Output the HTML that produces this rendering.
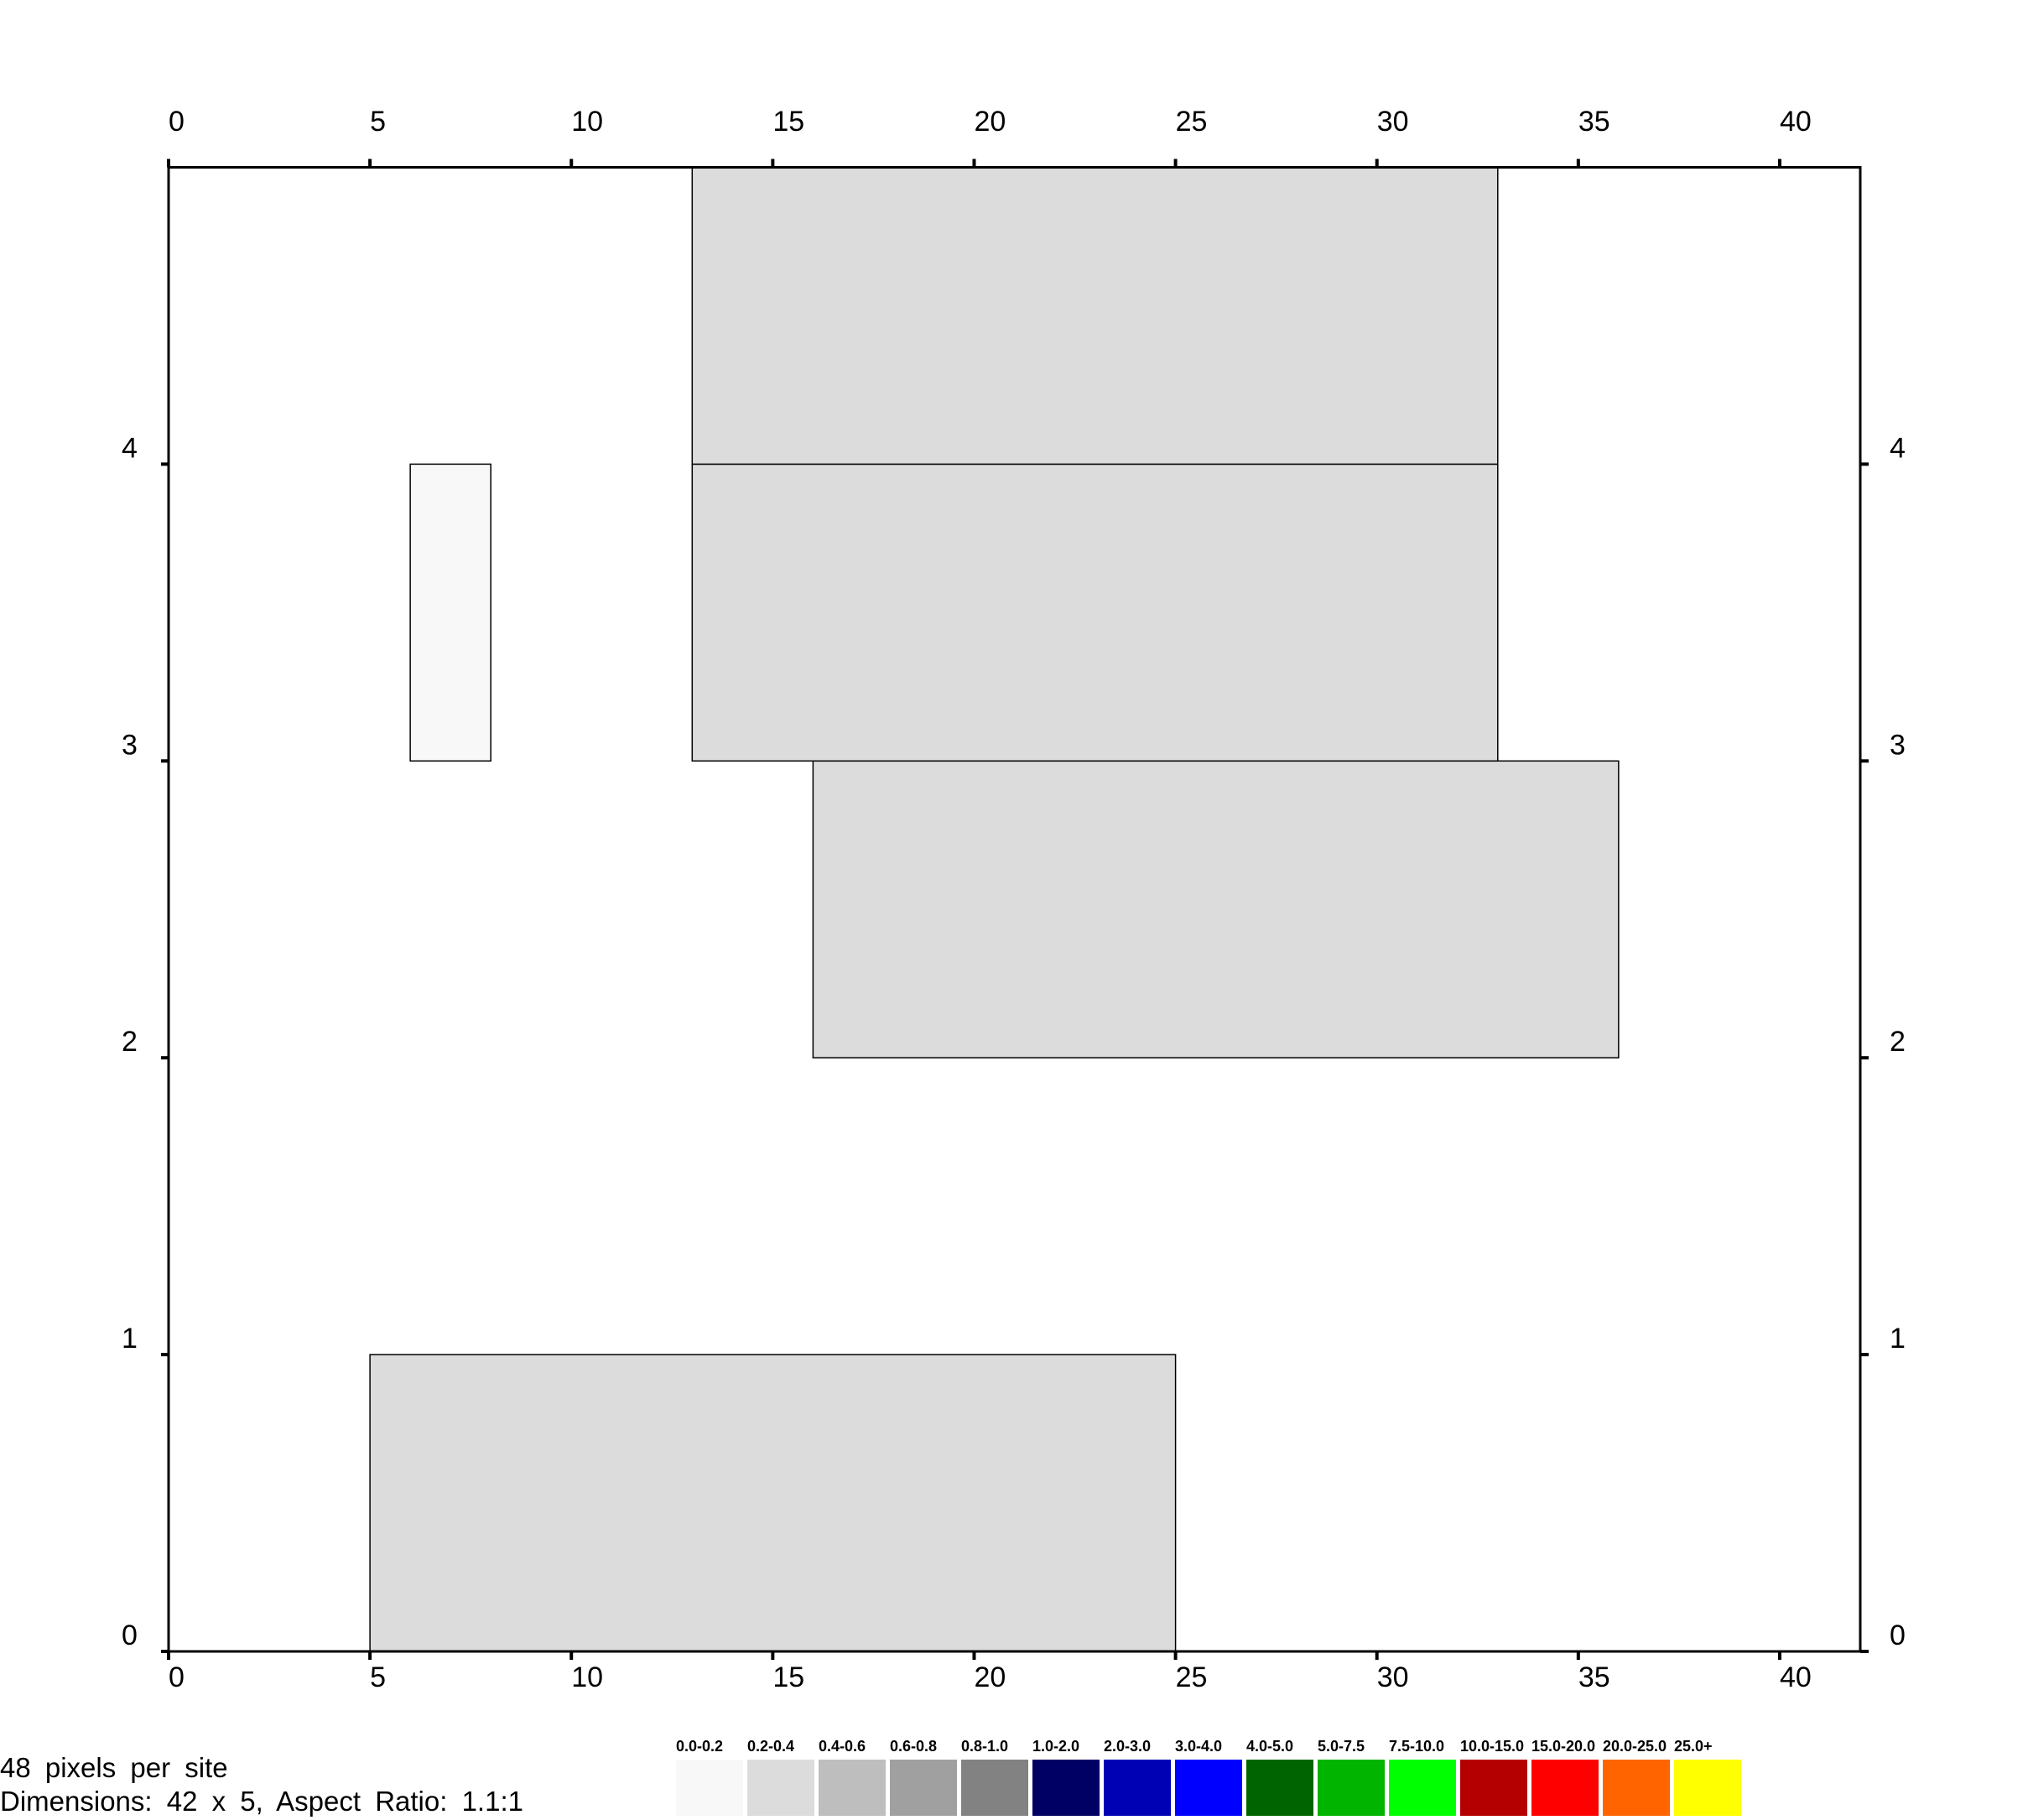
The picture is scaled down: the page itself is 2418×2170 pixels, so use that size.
<!DOCTYPE html>
<html><head><meta charset="utf-8"><style>
html,body{margin:0;padding:0;background:#fff;}
svg{display:block;font-family:"Liberation Sans",Arial,sans-serif;}
</style></head><body>
<svg id="chart" width="2418" height="2170" viewBox="0 0 2418 2170" xmlns="http://www.w3.org/2000/svg"></svg>
<script>
const xTicks = [0,5,10,15,20,25,30,35,40];
const yTicks = [0,1,2,3,4];
const cellX0 = [5,16,13,13,6];
const cellX1 = [25,36,33,33,8];
const cellY0 = [0,2,3,4,3];
const cellY1 = [1,3,4,5,4];
const cellClass = [1,1,1,1,0];
const legendLabels = ["0.0-0.2","0.2-0.4","0.4-0.6","0.6-0.8","0.8-1.0","1.0-2.0","2.0-3.0","3.0-4.0","4.0-5.0","5.0-7.5","7.5-10.0","10.0-15.0","15.0-20.0","20.0-25.0","25.0+"];
const legendColors = ["#f8f8f8","#dcdcdc","#bebebe","#a0a0a0","#828282","#000064","#0000b4","#0000ff","#006400","#00b400","#00ff00","#b40000","#ff0000","#ff6400","#ffff00"];

const NS="http://www.w3.org/2000/svg";
const svg=document.getElementById('chart');
const L=201,R=2218,T=199.5,B=1969;
const xMax=42,yMax=5;
const sx=v=>L+(R-L)*v/xMax;
const sy=v=>B-(B-T)*v/yMax;
function mk(tag,attrs,parent){const e=document.createElementNS(NS,tag);for(const k in attrs)e.setAttribute(k,attrs[k]);(parent||svg).appendChild(e);return e;}

cellX0.forEach((x0,i)=>{
  const r=mk('rect',{x:sx(x0),y:sy(cellY1[i]),width:sx(cellX1[i])-sx(x0),height:sy(cellY0[i])-sy(cellY1[i]),fill:legendColors[cellClass[i]],stroke:'#000','stroke-width':1.5});
  
  
});
const f=mk('rect',{x:L,y:T,width:R-L,height:B-T,fill:'none',stroke:'#000','stroke-width':3});



xTicks.forEach(v=>{
  const x=sx(v);
  mk('line',{x1:x,x2:x,y1:T-10,y2:T,stroke:'#000','stroke-width':4});
  mk('line',{x1:x,x2:x,y1:B,y2:B+10,stroke:'#000','stroke-width':4});
  const t1=mk('text',{x:x,y:156,'font-size':34,fill:'#000'});t1.textContent=v;
  
  
  const t2=mk('text',{x:x,y:2011,'font-size':34,fill:'#000'});t2.textContent=v;
  
  
});
yTicks.forEach(v=>{
  const y=sy(v);
  mk('line',{x1:L-9,x2:L,y1:y,y2:y,stroke:'#000','stroke-width':4});
  mk('line',{x1:R,x2:R+10,y1:y,y2:y,stroke:'#000','stroke-width':4});
  const t1=mk('text',{x:145,y:y-8,'font-size':34,fill:'#000'});t1.textContent=v;
  
  
  const t2=mk('text',{x:2253,y:y-8,'font-size':34,fill:'#000'});t2.textContent=v;
  
  
});

legendLabels.forEach((lab,i)=>{
  const x=806+i*85;
  const r=mk('rect',{x:x,y:2098,width:80,height:67,fill:legendColors[i]});
  
  
  const t=mk('text',{x:x,y:2088,'font-size':18,'font-weight':'bold',fill:'#000'});t.textContent=lab;
  
  
});

const n1=mk('text',{x:0,y:2119,'font-size':33,fill:'#000','word-spacing':8});n1.textContent='48 pixels per site';


const n2=mk('text',{x:0,y:2159,'font-size':33,fill:'#000','word-spacing':8});n2.textContent='Dimensions: 42 x 5, Aspect Ratio: 1.1:1';


</script>
</body></html>
